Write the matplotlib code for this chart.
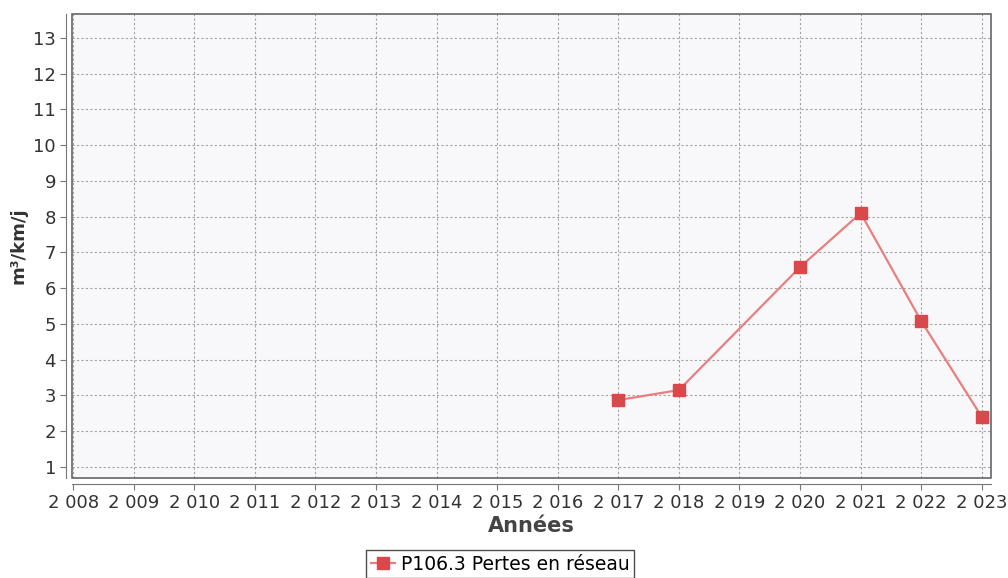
import matplotlib.pyplot as plt
from matplotlib.patches import Rectangle
from matplotlib.ticker import FuncFormatter, MultipleLocator

# data
years = [2017, 2018, 2020, 2021, 2022, 2023]
pertes = [2.87, 3.15, 6.59, 8.10, 5.08, 2.40]
series_name = "P106.3 Pertes en réseau"

fig = plt.figure(figsize=(10.08, 5.78), dpi=100)
ax = fig.add_axes([0.0714, 0.173, 0.9116, 0.8028])
ax.set_facecolor("#f8f8fa")

ax.plot(years, pertes, color="#e87f7f", lw=1.6, marker="s", markersize=8,
        markerfacecolor="#d9484a", markeredgecolor="#d9484a", label=series_name,
        clip_on=False, zorder=3)

ax.set_xlim(2007.98, 2023.15)
ax.set_ylim(0.69, 13.67)
ax.xaxis.set_major_locator(MultipleLocator(1))
ax.yaxis.set_major_locator(MultipleLocator(1))
ax.xaxis.set_major_formatter(FuncFormatter(lambda v, p: f"{int(round(v)):,}".replace(",", " ")))

ax.grid(True, color="#a3a3a3", lw=0.8, linestyle=(0, (2, 2)))

# JFreeChart style: axis lines offset from the plot frame
for s in ["top", "right"]:
    ax.spines[s].set_visible(False)
for s in ["left", "bottom"]:
    ax.spines[s].set_position(("outward", 4))
    ax.spines[s].set_color("#777777")
ax.add_patch(Rectangle((0, 0), 1, 1, transform=ax.transAxes, fill=False,
                       edgecolor="#666666", lw=1.2, clip_on=False, zorder=4))

ax.tick_params(axis="both", colors="#777777", labelcolor="#333333", labelsize=13, length=4)

ax.set_xlabel("Années", fontsize=15, fontweight="bold", color="#444444", labelpad=3)
ax.set_ylabel("m³/km/j", fontsize=13, fontweight="bold", color="#333333", labelpad=4)

leg = fig.legend(loc="lower center", bbox_to_anchor=(0.496, -0.017), fontsize=13.5,
                 frameon=True, fancybox=False, handlelength=1.3, handletextpad=0.3,
                 borderpad=0.25)
leg.get_frame().set_edgecolor("#222222")
leg.get_frame().set_linewidth(1.0)

fig.savefig("out.png", dpi=100)
